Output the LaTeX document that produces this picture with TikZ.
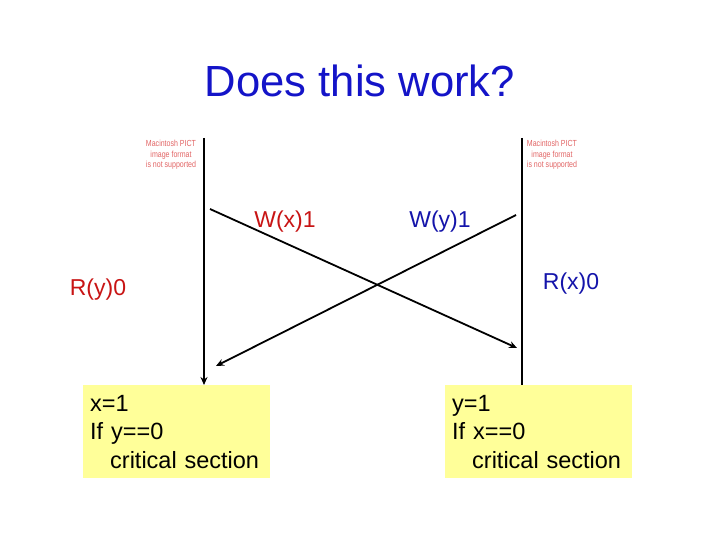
\documentclass[tikz,border=0pt]{standalone}
\usepackage{fontspec}
\setmainfont{Liberation Sans}
\usetikzlibrary{arrows.meta}
\definecolor{ttlblue}{RGB}{20,20,200}
\definecolor{lblred}{RGB}{200,20,20}
\definecolor{lblblue}{RGB}{20,20,170}
\definecolor{pictred}{RGB}{225,100,100}
\definecolor{boxyellow}{RGB}{255,255,153}
\begin{document}
\begin{tikzpicture}[x=1pt,y=-1pt,
  line/.style={line width=1.8pt,draw=black},
  arr/.style={line, -{Stealth[length=8pt,width=7pt]}},
  lbl/.style={font=\fontsize{23}{27}\selectfont, inner sep=0pt},
  pict/.style={font=\fontsize{8.8}{10.5}\selectfont, text=pictred, align=center, inner sep=0pt, xscale=0.8},
  codebox/.style={fill=boxyellow, anchor=north west, minimum width=187pt, minimum height=93pt,
    text width=173pt, inner xsep=7pt, inner ysep=0pt, align=left,
    font=\fontsize{23.5}{28.5}\selectfont}]
\useasboundingbox (0,0) rectangle (720,540);
\node[font=\fontsize{43.6}{50}\selectfont, text=ttlblue] (title) at (360,81) {Does this work?};
\node[pict] (pictL) at (171,155) {Macintosh PICT\\image format\\is not supported};
\node[pict] (pictR) at (552,155) {Macintosh PICT\\image format\\is not supported};
\node[codebox] (boxL) at (83,385) {x=1\\If y==0\\\hspace*{20pt}critical section};
\node[codebox] (boxR) at (445,385) {y=1\\If x==0\\\hspace*{20pt}critical section};
\coordinate (topL) at (204,138);
\coordinate (topR) at (522,138);
\coordinate (wxS) at (210,209);
\coordinate (wxE) at (517,348);
\coordinate (wyS) at (516,215);
\coordinate (wyE) at (216,366);
\draw[arr] (topL) -- (boxL.north -| topL);
\draw[line] (topR) -- (boxR.north -| topR);
\draw[arr] (wxS) -- (wxE);
\draw[arr] (wyS) -- (wyE);
\node[lbl, text=lblred] (wx) at (285,222) {W(x)1};
\node[lbl, text=lblblue] (wy) at (440,222) {W(y)1};
\node[lbl, text=lblred] (ry) at (98,290) {R(y)0};
\node[lbl, text=lblblue] (rx) at (571,284) {R(x)0};
\end{tikzpicture}
\end{document}
